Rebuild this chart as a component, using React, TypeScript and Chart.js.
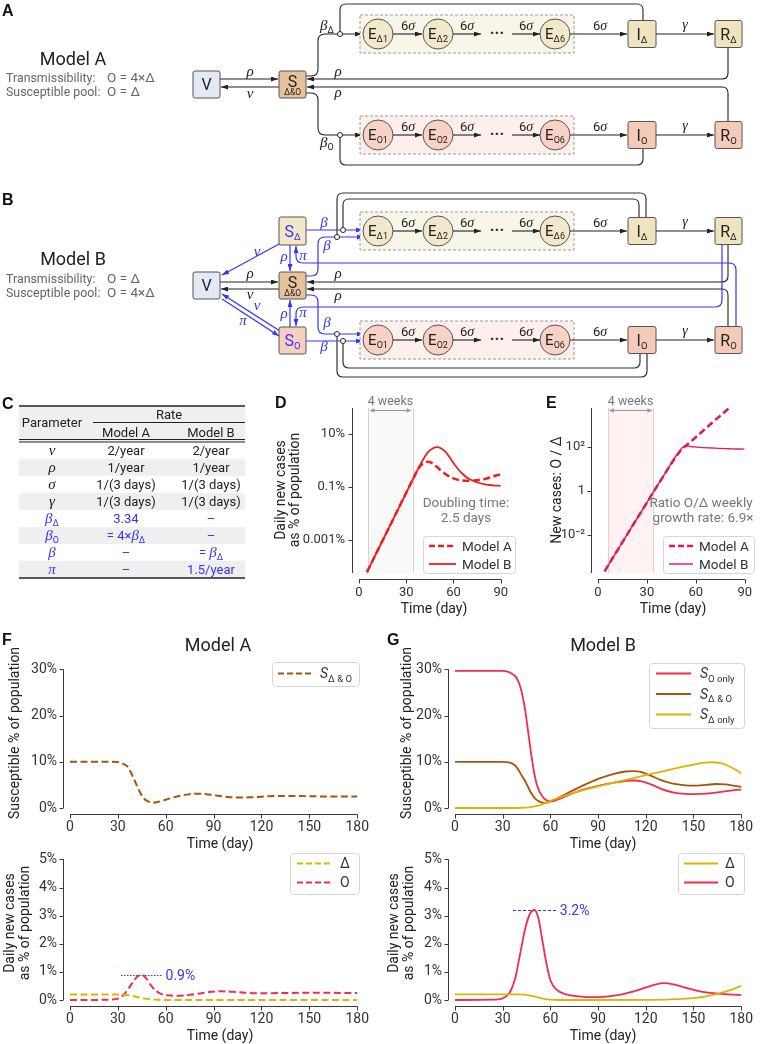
import React, { useEffect, useRef } from 'react';
import { Chart, registerables } from 'chart.js';

Chart.register(...registerables);

const FONT = 'Roboto, "Noto Sans", "DejaVu Sans", sans-serif';
const MATH = '"Liberation Serif", "DejaVu Serif", serif';
const BOLD = '"Liberation Sans", Arial, sans-serif';
Chart.defaults.font.family = FONT;

const BLUE = '#3434ff';
const RED_D = '#f01e1e';
const CRIMSON = '#e2175e';
const RED = '#f52b4c';
const BROWN = '#a5550d';
const GOLD = '#dfb400';
const TICK = '#333';

// ---------------- Panel D: daily new cases, % of population (log)
const dDaysA = [5, 15, 25, 35, 38, 41, 43.5, 46, 49, 52, 56, 60, 65, 70, 75, 80, 85, 90];
const dModelA = [6.0e-5, 9.5e-4, 0.015, 0.24, 0.52, 0.8, 0.9, 0.82, 0.6, 0.42, 0.28, 0.21, 0.175, 0.17, 0.18, 0.2, 0.25, 0.3];
const dDaysB = [5, 15, 25, 35, 38, 41, 44, 47, 49.5, 52, 55, 58, 62, 66, 70, 75, 80, 85, 90];
const dModelB = [6.0e-5, 9.5e-4, 0.015, 0.24, 0.55, 1.15, 2.1, 2.9, 3.2, 2.9, 2.1, 1.2, 0.55, 0.3, 0.2, 0.15, 0.125, 0.115, 0.11];
const dTicks = [0.001, 0.1, 10];
const dTickLabels = ['0.001%', '0.1%', '10%'];
const dYMin = 5.62e-5;
const dYMax = 95.5;

// ---------------- Panel E: ratio O / Delta (log)
const eDaysA = [4, 15, 25, 35, 42, 47, 50, 52, 55, 60, 65, 70, 75, 80, 84];
const eModelA = [2.1e-4, 4.5e-3, 0.071, 1.12, 7.6, 28, 56, 83, 126, 263, 562, 1200, 2500, 5250, 9500];
const eDaysB = [4, 15, 25, 35, 42, 47, 50, 52, 54, 57, 62, 70, 80, 90];
const eModelB = [2.1e-4, 4.5e-3, 0.071, 1.12, 7.6, 30, 63, 93, 105, 100, 91, 85, 79, 76];
const eTicks = [0.01, 1, 100];
const eTickLabels = ['10⁻²', '1', '10²'];
const eYMin = 1.78e-4;
const eYMax = 5623;

const WEEKS = [6, 34];

// ---------------- Panel F (Model A)
const fSDays = [0, 25, 30, 33, 36, 38, 40, 42, 44, 46, 48, 50, 52, 55, 60, 65, 70, 75, 80, 85, 90, 95, 100, 106, 112, 120, 130, 140, 150, 160, 170, 180];
const fS = [10, 10, 9.95, 9.6, 9.0, 7.8, 6.3, 4.8, 3.3, 2.2, 1.6, 1.3, 1.15, 1.3, 1.8, 2.3, 2.7, 3.0, 3.1, 3.0, 2.8, 2.55, 2.35, 2.25, 2.3, 2.45, 2.6, 2.6, 2.55, 2.5, 2.5, 2.5];
const fDeltaDays = [0, 32, 36, 40, 44, 48, 52, 56, 60, 180];
const fDelta = [0.2, 0.2, 0.18, 0.13, 0.08, 0.04, 0.015, 0.005, 0, 0];
const fODays = [0, 20, 26, 30, 33, 36, 39, 42, 45, 48, 51, 54, 57, 61, 66, 72, 80, 88, 95, 102, 110, 120, 130, 145, 160, 180];
const fO = [0, 0.005, 0.015, 0.05, 0.15, 0.35, 0.6, 0.82, 0.9, 0.75, 0.5, 0.32, 0.22, 0.17, 0.15, 0.16, 0.22, 0.29, 0.31, 0.29, 0.26, 0.24, 0.245, 0.255, 0.255, 0.25];
const fPeak = { from: 32, to: 58, value: 0.9, label: '0.9%' };

// ---------------- Panel G (Model B)
const gODays = [0, 30, 34, 36, 38, 40, 42, 44, 46, 48, 50, 52, 54, 56, 58, 60, 63, 66, 70, 75, 80, 90, 100, 108, 113, 118, 124, 130, 137, 145, 150, 158, 165, 172, 180];
const gO = [29.7, 29.7, 29.4, 29.0, 28.5, 27.3, 25.0, 21.5, 16.5, 11.5, 7.2, 4.5, 3.0, 2.1, 1.6, 1.45, 1.6, 2.0, 2.6, 3.3, 3.9, 4.8, 5.5, 5.9, 5.95, 5.7, 5.0, 4.1, 3.4, 3.05, 3.0, 3.1, 3.4, 3.7, 4.0];
const gBDays = [0, 30, 34, 36, 38, 40, 42, 44, 46, 48, 50, 52, 55, 57, 60, 65, 70, 80, 90, 100, 107, 112, 117, 123, 130, 138, 145, 152, 158, 164, 170, 176, 180];
const gB = [10, 10, 9.9, 9.6, 9.1, 8.2, 7.0, 5.9, 4.5, 3.2, 2.2, 1.6, 1.15, 1.1, 1.4, 2.2, 3.1, 4.8, 6.3, 7.4, 7.9, 8.0, 7.8, 7.0, 6.0, 5.2, 4.9, 4.85, 5.0, 5.2, 5.1, 4.8, 4.6];
const gDDays = [0, 38, 42, 46, 50, 54, 58, 62, 70, 80, 90, 100, 110, 120, 130, 140, 150, 157, 162, 167, 172, 176, 180];
const gD = [0, 0, 0.05, 0.15, 0.35, 0.7, 1.2, 1.8, 2.8, 3.8, 4.7, 5.5, 6.3, 7.1, 7.9, 8.7, 9.4, 9.8, 9.9, 9.7, 9.1, 8.4, 7.5];
const gDeltaCaseDays = [0, 40, 44, 48, 52, 56, 60, 65, 125, 140, 150, 158, 165, 172, 180];
const gDeltaCases = [0.2, 0.2, 0.19, 0.15, 0.09, 0.04, 0.01, 0, 0.005, 0.03, 0.07, 0.13, 0.22, 0.33, 0.5];
const gOCaseDays = [0, 25, 29, 32, 35, 38, 41, 44, 47, 50, 52.5, 55, 57.5, 60, 64, 70, 78, 86, 95, 105, 115, 123, 131, 138, 146, 155, 165, 180];
const gOCases = [0, 0.01, 0.04, 0.12, 0.32, 0.8, 1.65, 2.5, 3.05, 3.2, 2.9, 2.1, 1.3, 0.7, 0.36, 0.2, 0.13, 0.1, 0.12, 0.2, 0.35, 0.5, 0.6, 0.55, 0.42, 0.3, 0.23, 0.17];
const gPeak = { from: 36.5, to: 64, value: 3.2, label: '3.2%' };

// ---------------- Panel C table
const tableParams = ['ν', 'ρ', 'σ', 'γ', 'β_Δ', 'β_O', 'β', 'π'];
const tableModelA = ['2/year', '1/year', '1/(3 days)', '1/(3 days)', '3.34', '= 4×β_Δ', '–', '–'];
const tableModelB = ['2/year', '1/year', '1/(3 days)', '1/(3 days)', '–', '–', '= β_Δ', '1.5/year'];

// ---------------- chart plumbing
const spines = {
  id: 'spines',
  afterDraw(chart: any) {
    const { ctx, chartArea: a, scales } = chart;
    const off = 6, tl = 4;
    ctx.save();
    ctx.strokeStyle = '#3a3a3a';
    ctx.lineWidth = 1;
    ctx.beginPath();
    const yb = Math.round(a.bottom + off) + 0.5;
    ctx.moveTo(a.left, yb); ctx.lineTo(a.right + 0.5, yb);
    for (const t of scales.x.ticks) {
      const p = Math.round(scales.x.getPixelForValue(t.value)) + 0.5;
      ctx.moveTo(p, yb); ctx.lineTo(p, yb + tl);
    }
    const xl = Math.round(a.left - off) - 0.5;
    ctx.moveTo(xl, a.top); ctx.lineTo(xl, a.bottom);
    for (const t of scales.y.ticks) {
      const p = Math.round(scales.y.getPixelForValue(t.value)) + 0.5;
      ctx.moveTo(xl, p); ctx.lineTo(xl - tl, p);
    }
    ctx.stroke();
    ctx.restore();
  },
};

const weeksPlugin = (fill: string, edge: string) => ({
  id: 'weeks',
  beforeDatasetsDraw(chart: any) {
    const { ctx, chartArea: a, scales } = chart;
    const x0 = scales.x.getPixelForValue(WEEKS[0]);
    const x1 = scales.x.getPixelForValue(WEEKS[1]);
    ctx.save();
    ctx.fillStyle = fill;
    ctx.fillRect(x0, a.top, x1 - x0, a.bottom - a.top);
    ctx.strokeStyle = edge;
    ctx.lineWidth = 1;
    ctx.beginPath();
    ctx.moveTo(Math.round(x0) + 0.5, a.top); ctx.lineTo(Math.round(x0) + 0.5, a.bottom);
    ctx.moveTo(Math.round(x1) + 0.5, a.top); ctx.lineTo(Math.round(x1) + 0.5, a.bottom);
    ctx.stroke();
    const ya = a.top + 2.5;
    ctx.strokeStyle = '#999';
    ctx.fillStyle = '#999';
    ctx.beginPath();
    ctx.moveTo(x0 + 3, ya); ctx.lineTo(x1 - 3, ya);
    ctx.stroke();
    ctx.beginPath();
    ctx.moveTo(x0 + 1, ya); ctx.lineTo(x0 + 6, ya - 2.2); ctx.lineTo(x0 + 6, ya + 2.2); ctx.closePath();
    ctx.moveTo(x1 - 1, ya); ctx.lineTo(x1 - 6, ya - 2.2); ctx.lineTo(x1 - 6, ya + 2.2); ctx.closePath();
    ctx.fill();
    ctx.fillStyle = '#777';
    ctx.font = `12.5px ${FONT}`;
    ctx.textAlign = 'center';
    ctx.textBaseline = 'middle';
    ctx.fillText('4 weeks', (x0 + x1) / 2, a.top - 6);
    ctx.restore();
  },
});

const peakPlugin = (peak: any, dash: number[]) => ({
  id: 'peak',
  beforeDatasetsDraw(chart: any) {
    const { ctx, scales } = chart;
    const py = Math.round(scales.y.getPixelForValue(peak.value)) + 0.5;
    const px0 = scales.x.getPixelForValue(peak.from);
    const px1 = scales.x.getPixelForValue(peak.to);
    ctx.save();
    ctx.strokeStyle = BLUE;
    ctx.lineWidth = 1;
    ctx.setLineDash(dash);
    ctx.beginPath(); ctx.moveTo(px0, py); ctx.lineTo(px1, py); ctx.stroke();
    ctx.setLineDash([]);
    ctx.fillStyle = BLUE;
    ctx.font = `14px ${FONT}`;
    ctx.textAlign = 'left';
    ctx.textBaseline = 'middle';
    ctx.fillText(peak.label, px1 + 3, py + 1);
    ctx.restore();
  },
});

type Series = { days: number[]; values: number[]; color: string; width: number; dash?: number[] };

function lineConfig(o: any) {
  const [L, T, W, H] = o.box;
  const [x0, y0, x1, y1] = o.area;
  const tickFont = { family: FONT, size: o.tickSize };
  return {
    type: 'line',
    data: {
      datasets: o.series.map((s: Series) => ({
        data: s.days.map((d, i) => ({ x: d, y: s.values[i] })),
        borderColor: s.color,
        borderWidth: s.width,
        borderDash: s.dash || [],
        pointRadius: 0,
        fill: false,
        cubicInterpolationMode: 'monotone',
        borderCapStyle: 'butt',
        clip: o.clip !== undefined ? o.clip : undefined,
      })),
    },
    options: {
      animation: false,
      responsive: false,
      maintainAspectRatio: false,
      events: [],
      layout: { padding: { left: 0, top: y0 - T, right: L + W - x1, bottom: 0 } },
      plugins: { legend: { display: false }, tooltip: { enabled: false } },
      scales: {
        x: {
          type: 'linear', min: 0, max: o.xMax, bounds: 'data',
          ticks: { stepSize: o.xStep, font: tickFont, color: TICK, padding: o.xPad, maxRotation: 0, autoSkip: false },
          grid: { display: false, drawTicks: false },
          border: { display: false },
          afterFit: (s: any) => { s.height = T + H - y1; },
        },
        y: {
          ...o.y,
          ticks: { ...(o.y.ticks || {}), font: tickFont, color: TICK, padding: o.yPad, autoSkip: false },
          grid: { display: false, drawTicks: false },
          border: { display: false },
          afterFit: (s: any) => { s.width = x0 - L; },
        },
      },
    },
    plugins: [spines, ...(o.plugins || [])],
  };
}

const BOX_D = [240, 385, 280, 240];
const BOX_E = [520, 385, 244, 240];
const BOX_FT = [0, 648, 380, 202];
const BOX_FB = [0, 838, 380, 206];
const BOX_GT = [380, 648, 384, 202];
const BOX_GB = [380, 838, 384, 206];

const makeD = () => lineConfig({
  box: BOX_D, area: [359, 408, 509, 573], tickSize: 13, xPad: 12, yPad: 14, xMax: 90, xStep: 30,
  y: {
    type: 'logarithmic', min: dYMin, max: dYMax, bounds: 'data',
    afterBuildTicks: (s: any) => { s.ticks = dTicks.map((v) => ({ value: v })); },
    ticks: { callback: (_v: any, i: number) => dTickLabels[i] },
  },
  series: [
    { days: dDaysA, values: dModelA, color: RED_D, width: 2.5, dash: [7, 3.5] },
    { days: dDaysB, values: dModelB, color: RED_D, width: 1.8 },
  ],
  plugins: [weeksPlugin('rgba(0,0,0,0.025)', '#d2d2d2')],
});

const makeE = () => lineConfig({
  box: BOX_E, area: [598, 408, 748, 573], tickSize: 13, xPad: 12, yPad: 13, xMax: 90, xStep: 30,
  y: {
    type: 'logarithmic', min: eYMin, max: eYMax, bounds: 'data',
    afterBuildTicks: (s: any) => { s.ticks = eTicks.map((v) => ({ value: v })); },
    ticks: { callback: (_v: any, i: number) => eTickLabels[i] },
  },
  series: [
    { days: eDaysA, values: eModelA, color: CRIMSON, width: 2.5, dash: [7, 3.5] },
    { days: eDaysB, values: eModelB, color: CRIMSON, width: 1.4 },
  ],
  plugins: [weeksPlugin('rgba(240,110,110,0.09)', '#efcccc')],
});

const pct = (v: any) => v + '%';

const makeFT = () => lineConfig({
  box: BOX_FT, area: [70, 657, 370, 808], tickSize: 14, xPad: 11, yPad: 13, xMax: 180, xStep: 30, clip: 3,
  y: { type: 'linear', min: 0, max: 30, ticks: { stepSize: 10, callback: pct } },
  series: [{ days: fSDays, values: fS, color: BROWN, width: 2, dash: [7, 3.5] }],
});

const makeFB = () => lineConfig({
  box: BOX_FB, area: [70, 847, 370, 1000], tickSize: 14, xPad: 11, yPad: 13, xMax: 180, xStep: 30, clip: 3,
  y: { type: 'linear', min: 0, max: 5, ticks: { stepSize: 1, callback: pct } },
  series: [
    { days: fDeltaDays, values: fDelta, color: GOLD, width: 2, dash: [7, 3.5] },
    { days: fODays, values: fO, color: RED, width: 2, dash: [7, 3.5] },
  ],
  plugins: [peakPlugin(fPeak, [1.5, 1.5])],
});

const makeGT = () => lineConfig({
  box: BOX_GT, area: [455, 657, 751, 808], tickSize: 14, xPad: 11, yPad: 13, xMax: 180, xStep: 30, clip: 3,
  y: { type: 'linear', min: 0, max: 30, ticks: { stepSize: 10, callback: pct } },
  series: [
    { days: gDDays, values: gD, color: GOLD, width: 1.8 },
    { days: gBDays, values: gB, color: BROWN, width: 1.8 },
    { days: gODays, values: gO, color: RED, width: 1.8 },
  ],
});

const makeGB = () => lineConfig({
  box: BOX_GB, area: [455, 847, 751, 1000], tickSize: 14, xPad: 11, yPad: 13, xMax: 180, xStep: 30, clip: 3,
  y: { type: 'linear', min: 0, max: 5, ticks: { stepSize: 1, callback: pct } },
  series: [
    { days: gDeltaCaseDays, values: gDeltaCases, color: GOLD, width: 1.8 },
    { days: gOCaseDays, values: gOCases, color: RED, width: 1.8 },
  ],
  plugins: [peakPlugin(gPeak, [3, 2])],
});

function ChartCanvas({ box, make }: { box: number[]; make: () => any }) {
  const ref = useRef<HTMLCanvasElement>(null);
  useEffect(() => {
    const chart = new Chart(ref.current as HTMLCanvasElement, make());
    return () => chart.destroy();
  }, []);
  const [l, t, w, h] = box;
  return <canvas ref={ref} width={w} height={h} style={{ position: 'absolute', left: l, top: t, width: w, height: h }} />;
}

// ---------------- diagram helpers
const GREEK = 'βνρσγπ';
function RichText({ s, subSize = 9 }: { s: string; subSize?: number }) {
  const parts: any[] = [];
  let i = 0;
  let k = 0;
  while (i < s.length) {
    const c = s[i];
    if (c === '_' && i + 1 < s.length) {
      parts.push(<tspan key={k++} fontSize={subSize} dy={3} fontFamily={FONT} fontStyle="normal">{s[i + 1]}</tspan>);
      parts.push(<tspan key={k++} dy={-3}>{''}</tspan>);
      i += 2;
    } else if (GREEK.includes(c)) {
      parts.push(<tspan key={k++} fontFamily={MATH} fontStyle="italic" fontSize={15}>{c}</tspan>);
      i += 1;
    } else {
      let j = i;
      while (j < s.length && s[j] !== '_' && !GREEK.includes(s[j])) j++;
      parts.push(<tspan key={k++}>{s.slice(i, j)}</tspan>);
      i = j;
    }
  }
  return <>{parts}</>;
}

function Box({ x, y, w = 27, h = 27, fill, main, sub, color = '#222' }: any) {
  return (
    <g>
      <rect x={x} y={y} width={w} height={h} rx={2} fill={fill} stroke="#555" strokeWidth={1} />
      <text x={x + w / 2} y={y + h / 2 + 5.5} textAnchor="middle" fontSize={16} fill={color}>
        {main}
        {sub ? <tspan fontSize={9.5} dy={3}>{sub}</tspan> : null}
      </text>
    </g>
  );
}

function SBox({ y }: { y: number }) {
  return (
    <g>
      <rect x={279} y={y} width={27} height={27} rx={2} fill="#e6c29d" stroke="#555" />
      <text x={292.5} y={y + 15.5} textAnchor="middle" fontSize={16} fill="#222">S</text>
      <text x={292.5} y={y + 24} textAnchor="middle" fontSize={8.5} fill="#222">Δ&amp;O</text>
    </g>
  );
}

function Chain({ cy, d }: { cy: number; d: boolean }) {
  const bg = d ? '#f7f6e8' : '#fdefeb';
  const cf = d ? '#f2e8ca' : '#f8d2c4';
  const bf = d ? '#efe3c0' : '#f6cab9';
  const s = d ? 'Δ' : 'O';
  const cxs = [378, 438, 555];
  const subs = [s + '1', s + '2', s + '6'];
  const arrows = [[393, 422, 408], [453, 481, 467], [512, 540, 526], [570, 627, 600]];
  return (
    <g>
      <rect x={360} y={cy - 19} width={214} height={38} fill={bg} stroke="#9a9a9a" strokeDasharray="3 2" />
      {cxs.map((cx, i) => (
        <g key={'c' + i}>
          <circle cx={cx} cy={cy} r={15} fill={cf} stroke="#555" />
          <text x={cx} y={cy + 5} textAnchor="middle" fontSize={15} fill="#222">E<tspan fontSize={9} dy={3}>{subs[i]}</tspan></text>
        </g>
      ))}
      {arrows.map(([a, b, l], i) => (
        <g key={'a' + i}>
          <path d={`M${a},${cy} H${b}`} stroke="#222" strokeWidth={1.1} fill="none" markerEnd="url(#ak)" />
          <text x={l} y={cy - 4} textAnchor="middle" fontSize={13} fill="#222">6<tspan fontFamily={MATH} fontStyle="italic" fontSize={14}>σ</tspan></text>
        </g>
      ))}
      <text x={497} y={cy + 4} textAnchor="middle" fontSize={16} fontWeight="bold" fill="#333">···</text>
      <Box x={628} y={cy - 13.5} w={28} fill={bf} main="I" sub={s} />
      <Box x={715} y={cy - 13.5} fill={bf} main="R" sub={s} />
      <path d={`M656,${cy} H714`} stroke="#222" strokeWidth={1.1} fill="none" markerEnd="url(#ak)" />
      <text x={685} y={cy - 5} textAnchor="middle" fontFamily={MATH} fontStyle="italic" fontSize={14} fill="#222">γ</text>
    </g>
  );
}

const A_ARROWS = [
  'M220,79 H278',
  'M279,87 H221',
  'M728,47.5 V73 Q728,79 722,79 H307',
  'M728,121.5 V93 Q728,87 722,87 H307',
  'M306,76 H311 Q318,76 318,69 V41 Q318,34 325,34 H362',
  'M306,93 H311 Q318,93 318,100 V128 Q318,135 325,135 H362',
];
const A_LOOPS = [
  'M340,31.5 V10 Q340,4 346,4 H637 Q643,4 643,10 V20.5',
  'M340,137.5 V159 Q340,165 346,165 H637 Q643,165 643,159 V148.5',
];
const B_ARROWS = [
  'M220,282 H278',
  'M279,289 H221',
  'M728,244.5 V276 Q728,282 722,282 H307',
  'M728,326.5 V295 Q728,289 722,289 H307',
];
const B_LOOPS = [
  'M337,234.5 V199 Q337,193 343,193 H640 Q646,193 646,199 V217.5',
  'M343,227.5 V205 Q343,199 349,199 H633 Q639,199 639,205 V217.5',
  'M337,336.5 V371 Q337,377 343,377 H641 Q647,377 647,371 V353.5',
  'M343,343.5 V362 Q343,368 349,368 H634 Q640,368 640,362 V353.5',
];
const B_BLUE = [
  'M306,230 H363',
  'M306,276 H311 Q318,276 318,269 V244 Q318,237 325,237 H364',
  'M306,341 H363',
  'M306,295 H311 Q318,295 318,302 V327 Q318,334 325,334 H364',
  'M290,245 V271',
  'M290,327 V300',
  'M736,326.5 V270 Q736,263 729,263 H303 Q296,263 296,256 V246',
  'M722,244.5 V300 Q722,307 715,307 H303 Q296,307 296,314 V326',
  'M281,243 L222,275',
  'M280,331 L222,294',
  'M222,299 L279,336',
];

function G({ x, y, t, color = '#222', sub, anchor = 'middle' }: any) {
  return (
    <text x={x} y={y} textAnchor={anchor} fontFamily={MATH} fontStyle="italic" fontSize={15} fill={color}>
      {t}
      {sub ? <tspan fontFamily={FONT} fontStyle="normal" fontSize={9} dy={3}>{sub}</tspan> : null}
    </text>
  );
}

function Legend({ x, y, w, h, items }: any) {
  return (
    <g>
      <rect x={x + 0.5} y={y + 0.5} width={w} height={h} rx={3} fill="#fff" fillOpacity={0.85} stroke="#d6d6d6" />
      {items.map((it: any, i: number) => (
        <g key={i}>
          <line x1={it.x1} x2={it.x2} y1={it.y} y2={it.y} stroke={it.color} strokeWidth={it.w} strokeDasharray={it.dash || undefined} />
          <text x={it.tx} y={it.y + 4.5} fontSize={it.size || 14} fill="#333">{it.label}</text>
        </g>
      ))}
    </g>
  );
}

const SLabel = (sub: string) => (
  <>
    <tspan fontStyle="italic">S</tspan>
    <tspan fontSize={9.5} dy={3.5}>{sub}</tspan>
  </>
);

function Overlay() {
  const rowTop = 442;
  const rh = 17;
  return (
    <svg width={764} height={1044} style={{ position: 'absolute', left: 0, top: 0, pointerEvents: 'none' }} fontFamily={FONT}>
      <defs>
        <marker id="ak" viewBox="0 0 7 5" refX="7" refY="2.5" markerWidth="7" markerHeight="5" markerUnits="userSpaceOnUse" orient="auto">
          <path d="M0,0 L7,2.5 L0,5 Z" fill="#222" />
        </marker>
        <marker id="ab" viewBox="0 0 7 5" refX="7" refY="2.5" markerWidth="7" markerHeight="5" markerUnits="userSpaceOnUse" orient="auto">
          <path d="M0,0 L7,2.5 L0,5 Z" fill={BLUE} />
        </marker>
      </defs>

      {/* panel letters */}
      {[['A', 2, 16], ['B', 2, 205], ['C', 2, 409], ['D', 275, 408], ['E', 546, 408], ['F', 2, 645], ['G', 387, 645]].map(([l, x, y]: any) => (
        <text key={l} x={x} y={y} fontFamily={BOLD} fontWeight="bold" fontSize={16} fill="#111">{l}</text>
      ))}

      {/* ---------- Panel A ---------- */}
      <text x={73} y={65} textAnchor="middle" fontSize={18} fill="#222">Model A</text>
      <text x={6} y={82} fontSize={12.4} fill="#666">Transmissibility:</text>
      <text x={107} y={82} fontSize={13.5} fill="#666">O = 4×Δ</text>
      <text x={6} y={95.5} fontSize={12.4} fill="#666">Susceptible pool:</text>
      <text x={107} y={95.5} fontSize={13.5} fill="#666">O = Δ</text>
      {A_LOOPS.map((d, i) => <path key={'al' + i} d={d} fill="none" stroke="#333" strokeWidth={1.2} />)}
      {A_ARROWS.map((d, i) => <path key={'aa' + i} d={d} fill="none" stroke="#222" strokeWidth={1.1} markerEnd="url(#ak)" />)}
      <Box x={193} y={71} fill="#e4e9f5" main="V" />
      <SBox y={71} />
      <Chain cy={34} d={true} />
      <Chain cy={135} d={false} />
      <circle cx={340} cy={34} r={2.5} fill="#fff" stroke="#222" />
      <circle cx={340} cy={135} r={2.5} fill="#fff" stroke="#222" />
      <G x={250} y={76} t="ρ" />
      <G x={250} y={98} t="ν" />
      <G x={338} y={76} t="ρ" />
      <G x={338} y={97} t="ρ" />
      <G x={320} y={30} t="β" sub="Δ" anchor="start" />
      <G x={320} y={147} t="β" sub="O" anchor="start" />

      {/* ---------- Panel B ---------- */}
      <text x={73} y={265} textAnchor="middle" fontSize={18} fill="#222">Model B</text>
      <text x={6} y={283} fontSize={12.4} fill="#666">Transmissibility:</text>
      <text x={107} y={283} fontSize={13.5} fill="#666">O = Δ</text>
      <text x={6} y={297} fontSize={12.4} fill="#666">Susceptible pool:</text>
      <text x={107} y={297} fontSize={13.5} fill="#666">O = 4×Δ</text>
      {B_LOOPS.map((d, i) => <path key={'bl' + i} d={d} fill="none" stroke="#333" strokeWidth={1.2} />)}
      {B_ARROWS.map((d, i) => <path key={'ba' + i} d={d} fill="none" stroke="#222" strokeWidth={1.1} markerEnd="url(#ak)" />)}
      {B_BLUE.map((d, i) => <path key={'bb' + i} d={d} fill="none" stroke={BLUE} strokeWidth={1.2} markerEnd="url(#ab)" />)}
      <Box x={193} y={272} fill="#e4e9f5" main="V" />
      <Box x={279} y={217} h={28} fill="#f2e7c6" main="S" sub="Δ" color={BLUE} />
      <SBox y={272} />
      <Box x={279} y={327} fill="#f7cfbf" main="S" sub="O" color={BLUE} />
      <Chain cy={231} d={true} />
      <Chain cy={340} d={false} />
      <circle cx={343} cy={230} r={2.5} fill="#fff" stroke="#222" />
      <circle cx={337} cy={237} r={2.5} fill="#fff" stroke="#222" />
      <circle cx={337} cy={334} r={2.5} fill="#fff" stroke="#222" />
      <circle cx={343} cy={341} r={2.5} fill="#fff" stroke="#222" />
      <G x={250} y={278} t="ρ" />
      <G x={250} y={299} t="ν" />
      <G x={338} y={278} t="ρ" />
      <G x={338} y={300} t="ρ" />
      <G x={324} y={227} t="β" color={BLUE} />
      <G x={327} y={250} t="β" color={BLUE} />
      <G x={327} y={327} t="β" color={BLUE} />
      <G x={324} y={351} t="β" color={BLUE} />
      <G x={284} y={261} t="ρ" color={BLUE} />
      <G x={303} y={260} t="π" color={BLUE} />
      <G x={284} y={318} t="ρ" color={BLUE} />
      <G x={303} y={317} t="π" color={BLUE} />
      <G x={257} y={256} t="ν" color={BLUE} />
      <G x={257} y={310} t="ν" color={BLUE} />
      <G x={243} y={325} t="π" color={BLUE} />

      {/* ---------- Panel C table ---------- */}
      <rect x={19} y={406} width={226} height={36} fill="#efefef" />
      {tableParams.map((_p, i) => (i % 2 === 1 ? <rect key={'rb' + i} x={19} y={rowTop + i * rh} width={226} height={rh} fill="#efefef" /> : null))}
      <line x1={19} x2={245} y1={406} y2={406} stroke="#222" strokeWidth={1.6} />
      <line x1={93} x2={245} y1={422.5} y2={422.5} stroke="#222" strokeWidth={1} />
      <line x1={19} x2={245} y1={439.5} y2={439.5} stroke="#222" strokeWidth={1} />
      <line x1={19} x2={245} y1={442} y2={442} stroke="#222" strokeWidth={1} />
      <line x1={19} x2={245} y1={rowTop + 8 * rh} y2={rowTop + 8 * rh} stroke="#222" strokeWidth={1.6} />
      <text x={52} y={427} textAnchor="middle" fontSize={13} fill="#222">Parameter</text>
      <text x={169} y={419} textAnchor="middle" fontSize={13} fill="#222">Rate</text>
      <text x={126} y={437} textAnchor="middle" fontSize={13} fill="#222">Model A</text>
      <text x={211} y={437} textAnchor="middle" fontSize={13} fill="#222">Model B</text>
      {tableParams.map((p, i) => {
        const y = rowTop + i * rh + 13;
        const c = i >= 4 ? BLUE : '#222';
        return (
          <g key={'row' + i} fill={c}>
            <text x={52} y={y} textAnchor="middle" fontSize={13}><RichText s={p} /></text>
            <text x={126} y={y} textAnchor="middle" fontSize={13}><RichText s={tableModelA[i]} /></text>
            <text x={211} y={y} textAnchor="middle" fontSize={13}><RichText s={tableModelB[i]} /></text>
          </g>
        );
      })}

      {/* ---------- Panel D / E overlays ---------- */}
      <text transform="translate(280,490) rotate(-90)" textAnchor="middle" dominantBaseline="central" fontSize={14} fill="#222">Daily new cases</text>
      <text transform="translate(294,490) rotate(-90)" textAnchor="middle" dominantBaseline="central" fontSize={14} fill="#222">as % of population</text>
      <text transform="translate(556,490) rotate(-90)" textAnchor="middle" dominantBaseline="central" fontSize={14} fill="#222">New cases: O / Δ</text>
      <text x={434} y={613} textAnchor="middle" fontSize={14} fill="#222">Time (day)</text>
      <text x={673} y={613} textAnchor="middle" fontSize={14} fill="#222">Time (day)</text>
      <text x={466} y={506.5} textAnchor="middle" fontSize={13.5} fill="#777">Doubling time:</text>
      <text x={466} y={521.5} textAnchor="middle" fontSize={13.5} fill="#777">2.5 days</text>
      <text x={701} y={506.5} textAnchor="middle" fontSize={13.5} fill="#777">Ratio O/Δ weekly</text>
      <text x={703} y={521.5} textAnchor="middle" fontSize={13.5} fill="#777">growth rate: 6.9×</text>
      <Legend x={423} y={536} w={92} h={37} items={[
        { x1: 429, x2: 456, y: 546, color: RED_D, w: 2.5, dash: '6 3', tx: 462, label: 'Model A', size: 13.5 },
        { x1: 429, x2: 456, y: 564, color: RED_D, w: 1.8, tx: 462, label: 'Model B', size: 13.5 },
      ]} />
      <Legend x={663} y={536} w={91} h={37} items={[
        { x1: 669, x2: 693, y: 546, color: CRIMSON, w: 2.5, dash: '6 3', tx: 699, label: 'Model A', size: 13.5 },
        { x1: 669, x2: 693, y: 564, color: CRIMSON, w: 1.4, tx: 699, label: 'Model B', size: 13.5 },
      ]} />

      {/* ---------- Panel F / G overlays ---------- */}
      <text x={218} y={651} textAnchor="middle" fontSize={18} fill="#222">Model A</text>
      <text x={603} y={651} textAnchor="middle" fontSize={18} fill="#222">Model B</text>
      <text transform="translate(14,733) rotate(-90)" textAnchor="middle" dominantBaseline="central" fontSize={14} fill="#222">Susceptible % of population</text>
      <text transform="translate(406,733) rotate(-90)" textAnchor="middle" dominantBaseline="central" fontSize={14} fill="#222">Susceptible % of population</text>
      <text transform="translate(9,923) rotate(-90)" textAnchor="middle" dominantBaseline="central" fontSize={14} fill="#222">Daily new cases</text>
      <text transform="translate(24,923) rotate(-90)" textAnchor="middle" dominantBaseline="central" fontSize={14} fill="#222">as % of population</text>
      <text transform="translate(393,923) rotate(-90)" textAnchor="middle" dominantBaseline="central" fontSize={14} fill="#222">Daily new cases</text>
      <text transform="translate(408,923) rotate(-90)" textAnchor="middle" dominantBaseline="central" fontSize={14} fill="#222">as % of population</text>
      <text x={220} y={848} textAnchor="middle" fontSize={14} fill="#222">Time (day)</text>
      <text x={220} y={1040} textAnchor="middle" fontSize={14} fill="#222">Time (day)</text>
      <text x={603} y={848} textAnchor="middle" fontSize={14} fill="#222">Time (day)</text>
      <text x={603} y={1040} textAnchor="middle" fontSize={14} fill="#222">Time (day)</text>
      <Legend x={272} y={662} w={87} h={24} items={[
        { x1: 278, x2: 313, y: 673.5, color: BROWN, w: 2, dash: '6 3', tx: 320, label: SLabel('Δ & O') },
      ]} />
      <Legend x={290} y={853} w={69} h={41} items={[
        { x1: 297, x2: 333, y: 863.5, color: GOLD, w: 2, dash: '6 3', tx: 340, label: 'Δ' },
        { x1: 297, x2: 333, y: 882.5, color: RED, w: 2, dash: '6 3', tx: 340, label: 'O' },
      ]} />
      <Legend x={649} y={663} w={95} h={65} items={[
        { x1: 656, x2: 691, y: 673.5, color: RED, w: 1.8, tx: 700, label: SLabel('O only') },
        { x1: 656, x2: 691, y: 694, color: BROWN, w: 1.8, tx: 700, label: SLabel('Δ & O') },
        { x1: 656, x2: 691, y: 714.5, color: GOLD, w: 1.8, tx: 700, label: SLabel('Δ only') },
      ]} />
      <Legend x={678} y={853} w={66} h={41} items={[
        { x1: 684, x2: 718, y: 863.5, color: GOLD, w: 1.8, tx: 725, label: 'Δ' },
        { x1: 684, x2: 718, y: 882.5, color: RED, w: 1.8, tx: 725, label: 'O' },
      ]} />
    </svg>
  );
}

export default function App() {
  return (
    <div style={{ position: 'absolute', left: 0, top: 0, width: 764, height: 1044, background: '#fff', overflow: 'hidden', fontFamily: FONT }}>
      <ChartCanvas box={BOX_D} make={makeD} />
      <ChartCanvas box={BOX_E} make={makeE} />
      <ChartCanvas box={BOX_FT} make={makeFT} />
      <ChartCanvas box={BOX_FB} make={makeFB} />
      <ChartCanvas box={BOX_GT} make={makeGT} />
      <ChartCanvas box={BOX_GB} make={makeGB} />
      <Overlay />
    </div>
  );
}
